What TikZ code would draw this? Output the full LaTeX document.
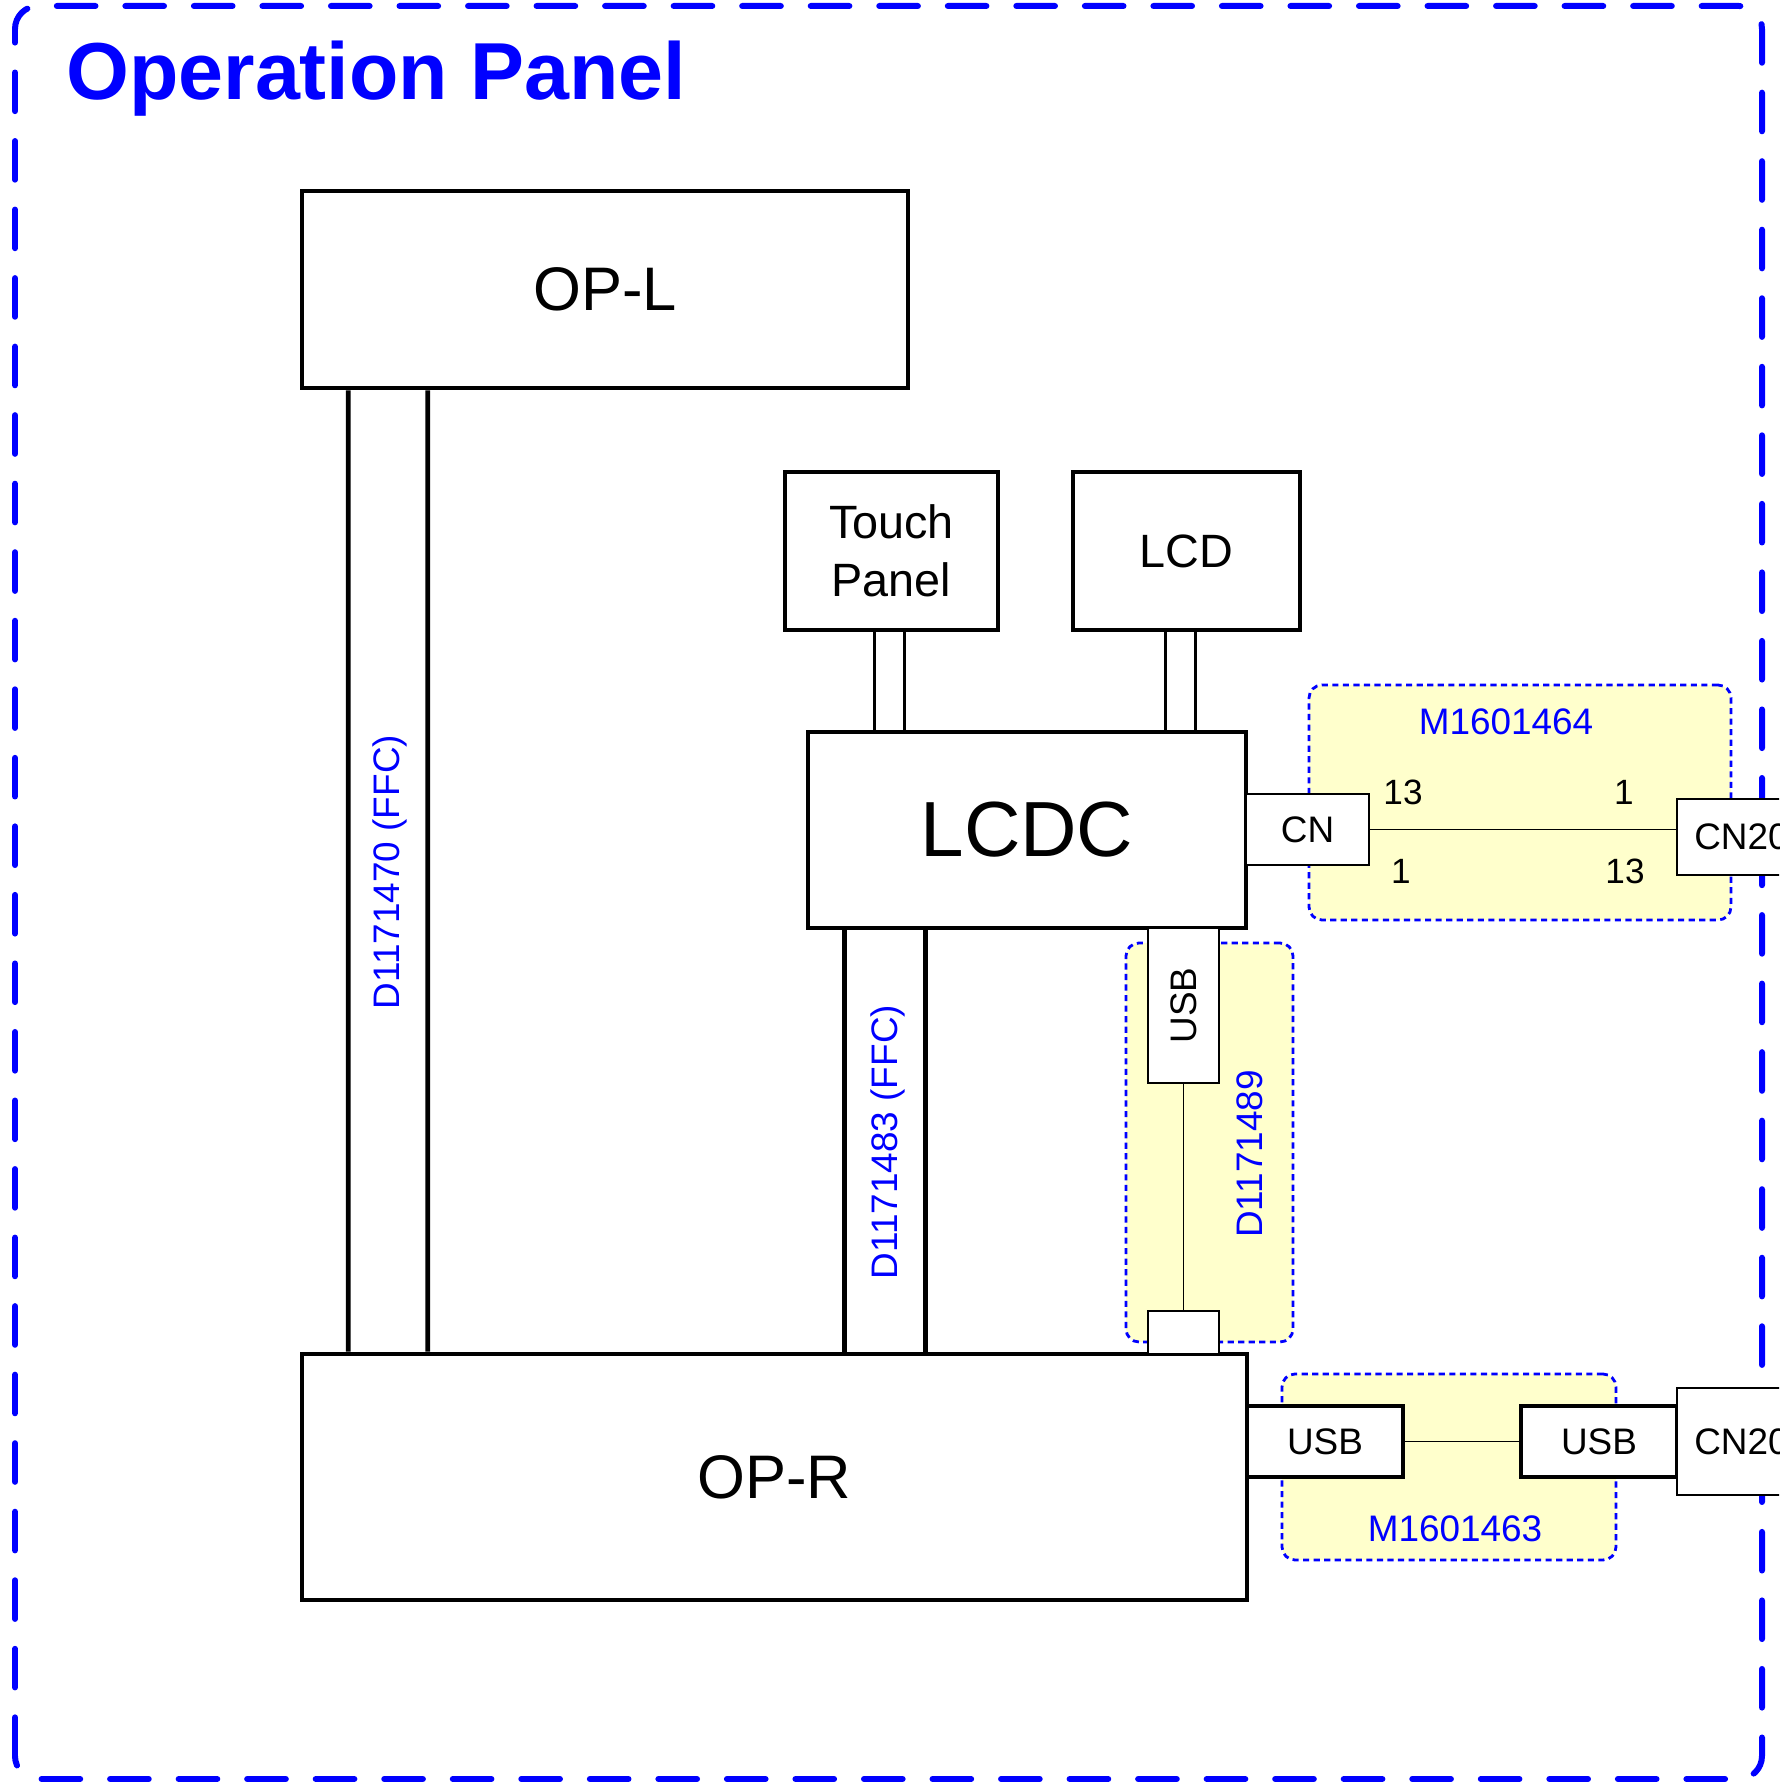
\documentclass[tikz,border=0pt]{standalone}
\usepackage{fontspec}
\usepackage{graphicx}
\setmainfont{Liberation Sans}
\usepackage{tikz}
\usetikzlibrary{positioning,calc}
\definecolor{panelblue}{RGB}{0,0,255}
\definecolor{harnessfill}{RGB}{255,255,204}

\begin{document}
\begin{tikzpicture}[
  board/.style={draw,line width=2.6pt,fill=white,inner sep=0pt,align=center},
  conn/.style={draw,line width=1.3pt,fill=white,inner sep=0pt,
               font=\fontsize{21}{25}\selectfont},
  usbconn/.style={conn,line width=2.6pt},
  cable/.style={line width=2.6pt},
  flex/.style={line width=1.7pt},
  wire/.style={line width=0.8pt},
  harness/.style={draw=panelblue,fill=harnessfill,line width=1.6pt,
                  dash pattern=on 3.5pt off 2.5pt,rounded corners=0.26cm,inner sep=0pt},
  partno/.style={text=panelblue,font=\fontsize{21}{25}\selectfont,inner sep=0pt},
  pin/.style={font=\fontsize{20}{24}\selectfont,inner sep=0pt},
  panelframe/.style={draw=panelblue,line width=3.4pt,dash pattern=on 22pt off 17pt,
                     line cap=round,rounded corners=0.46cm}
]
  \useasboundingbox (0,0) rectangle (35.58,35.70);
  \clip (0,0) rectangle (35.58,35.70);

  \draw[panelframe] (0.30,0.12) rectangle (35.24,35.58);
  \node[anchor=base west,inner sep=0pt,text=panelblue,
        font=\fontsize{46}{52}\selectfont\bfseries] (title) at (1.32,33.70)
    {Operation Panel};

  % harness areas
  \node[harness,minimum width=8.44cm,minimum height=4.70cm] (m464) at (30.40,19.65) {};
  \node[harness,minimum width=3.34cm,minimum height=7.98cm] (d489) at (24.19,12.85) {};
  \node[harness,minimum width=6.68cm,minimum height=3.72cm] (m463) at (28.98,6.36) {};
  \node[partno] (m464lbl) at (30.12,21.26) {M1601464};
  \node[partno,rotate=90] (d489lbl) at (25.00,12.62) {D1171489};
  \node[partno] (m463lbl) at (29.10,5.12) {M1601463};

  % boards
  \node[board,minimum width=12.12cm,minimum height=3.94cm,
        font=\fontsize{35}{40}\selectfont] (opl) at (12.10,29.91) {OP-L};
  \node[board,minimum width=4.26cm,minimum height=3.16cm,
        font=\fontsize{26.6}{33}\selectfont] (touch) at (17.83,24.68) {Touch\\Panel};
  \node[board,minimum width=4.54cm,minimum height=3.16cm,
        font=\fontsize{26.6}{33}\selectfont] (lcd) at (23.73,24.68) {LCD};
  \node[board,minimum width=8.76cm,minimum height=3.92cm,
        font=\fontsize{44.5}{50}\selectfont] (lcdc) at (20.54,19.10) {LCDC};
  \node[board,minimum width=18.90cm,minimum height=4.92cm,
        font=\fontsize{35}{40}\selectfont] (opr) at (15.49,6.16) {OP-R};

  % flat cables
  \draw[cable] ([xshift=0.97cm]opl.south west) -- ([xshift=0.97cm]opr.north west);
  \draw[cable] ([xshift=2.56cm]opl.south west) -- ([xshift=2.56cm]opr.north west);
  \draw[cable] ([xshift=0.78cm]lcdc.south west) -- ([xshift=0.78cm]lcdc.south west |- opr.north);
  \draw[cable] ([xshift=2.40cm]lcdc.south west) -- ([xshift=2.40cm]lcdc.south west |- opr.north);
  \draw[flex] ([xshift=1.84cm]touch.south west) -- ([xshift=1.84cm]touch.south west |- lcdc.north);
  \draw[flex] ([xshift=2.44cm]touch.south west) -- ([xshift=2.44cm]touch.south west |- lcdc.north);
  \draw[flex] ([xshift=1.90cm]lcd.south west) -- ([xshift=1.90cm]lcd.south west |- lcdc.north);
  \draw[flex] ([xshift=2.50cm]lcd.south west) -- ([xshift=2.50cm]lcd.south west |- lcdc.north);
  \node[partno,rotate=90] (d470lbl) at (7.80,18.26) {D1171470 (FFC)};
  \node[partno,rotate=90] (d483lbl) at (17.75,12.86) {D1171483 (FFC)};

  % connectors
  \node[conn,minimum width=2.46cm,minimum height=1.42cm] (cn) at (26.15,19.11) {CN};
  \node[conn,minimum width=2.57cm,minimum height=1.52cm] (cn20a) at (34.83,18.96) {CN20};
  \node[conn,minimum width=1.42cm,minimum height=3.10cm] (usbv) at (23.67,15.59)
    {\rotatebox{90}{USB}};
  \node[conn,minimum width=1.42cm,minimum height=0.86cm] (plug) at (23.67,9.05) {};
  \node[usbconn,minimum width=3.12cm,minimum height=1.42cm] (usb1) at (26.50,6.87) {USB};
  \node[usbconn,minimum width=3.12cm,minimum height=1.42cm] (usb2) at (31.98,6.87) {USB};
  \node[conn,minimum width=2.57cm,minimum height=2.14cm] (cn20b) at (34.83,6.87) {CN20};

  \draw[wire] (cn.east) -- (cn.east -| cn20a.west);
  \draw[wire] (usbv.south) -- (plug.north);
  \draw[wire] (usb1.east) -- (usb2.west);

  \node[pin] (cn13) at (28.06,19.86) {13};
  \node[pin] (cn1) at (28.02,18.28) {1};
  \node[pin] (cn20p1) at (32.48,19.86) {1};
  \node[pin] (cn20p13) at (32.50,18.28) {13};
\end{tikzpicture}
\end{document}
